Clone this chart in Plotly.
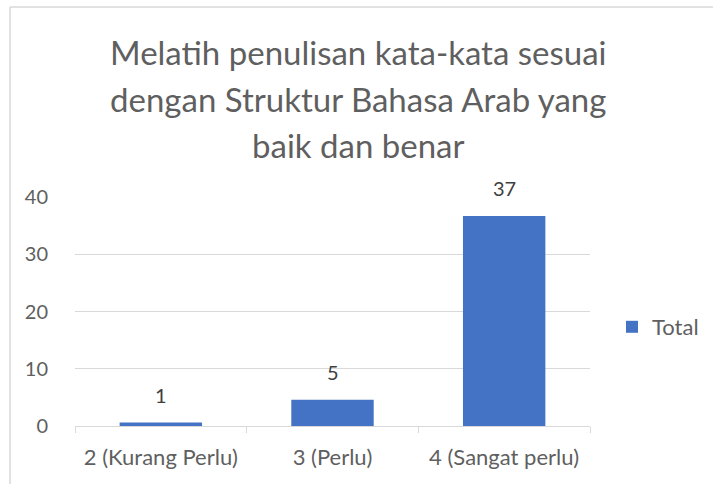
import plotly.graph_objects as go

categories = ["2 (Kurang Perlu)", "3 (Perlu)", "4 (Sangat perlu)"]
values = [0.6, 4.6, 36.7]
labels = ["1", "5", "37"]
series_name = "Total"
title_lines = ["Melatih penulisan kata-kata sesuai",
               "dengan Struktur Bahasa Arab yang",
               "baik dan benar"]
y_ticks = [0, 10, 20, 30, 40]

W, H = 713, 484
L, R, T, B = 75, 123, 197, 58
pw, ph = W - L - R, H - T - B
FONT = "Lato, Carlito, Calibri, sans-serif"
TXT = "#5f5f5f"

fig = go.Figure()
fig.add_trace(go.Bar(x=categories, y=values, name=series_name,
                     marker=dict(color="#4472C4", line=dict(width=0)),
                     width=0.48))

annotations = []
for c, v, t in zip(categories, values, labels):
    annotations.append(dict(x=c, y=v, xref="x", yref="y", text=t, showarrow=False,
                            yanchor="bottom", yshift=14,
                            font=dict(family=FONT, size=20, color="#404040")))

title_y = [52, 99, 145]
title_cx = (358 - L) / pw
for line, yc in zip(title_lines, title_y):
    annotations.append(dict(x=title_cx, xref="paper", y=1 + (T - yc) / ph, yref="paper",
                            text=line, showarrow=False, xanchor="center", yanchor="middle",
                            font=dict(family=FONT, size=33, color=TXT)))

# chart-area border (top and left edges visible)
bx = (10 - L) / pw
by = 1 + (T - 7) / ph
shapes = [
    dict(type="line", xref="paper", yref="paper", x0=bx, x1=2, y0=by, y1=by,
         line=dict(color="#d9d9d9", width=1.5)),
    dict(type="line", xref="paper", yref="paper", x0=bx, x1=bx, y0=-1, y1=by,
         line=dict(color="#d9d9d9", width=1.5)),
]

fig.update_layout(
    width=W, height=H,
    margin=dict(l=L, r=R, t=T, b=B, pad=0, autoexpand=False),
    paper_bgcolor="white", plot_bgcolor="white",
    font=dict(family=FONT, size=20, color=TXT),
    showlegend=True,
    legend=dict(x=(612 - L) / pw, xanchor="left", y=0.5 - (327 - (T + ph / 2)) / ph,
                yanchor="middle", font=dict(family=FONT, size=22, color=TXT),
                bgcolor="rgba(0,0,0,0)", itemwidth=30),
    annotations=annotations,
    shapes=shapes,
    bargap=0.52,
)
fig.update_xaxes(type="category", showgrid=False, showline=True, linecolor="#d9d9d9",
                 linewidth=1, ticks="outside", tickson="boundaries", ticklen=6,
                 tickcolor="#d9d9d9", tickfont=dict(family=FONT, size=22, color=TXT),
                 ticklabelstandoff=12)
fig.update_yaxes(range=[0, 40], tickvals=y_ticks, showgrid=True, gridcolor="#d9d9d9",
                 gridwidth=1, zeroline=False, showline=False,
                 tickfont=dict(family=FONT, size=20, color=TXT), ticklabelstandoff=26)

fig.write_html("out.html", config={"displayModeBar": False},
               post_script="document.body.style.margin='0';document.body.style.overflow='hidden';")
